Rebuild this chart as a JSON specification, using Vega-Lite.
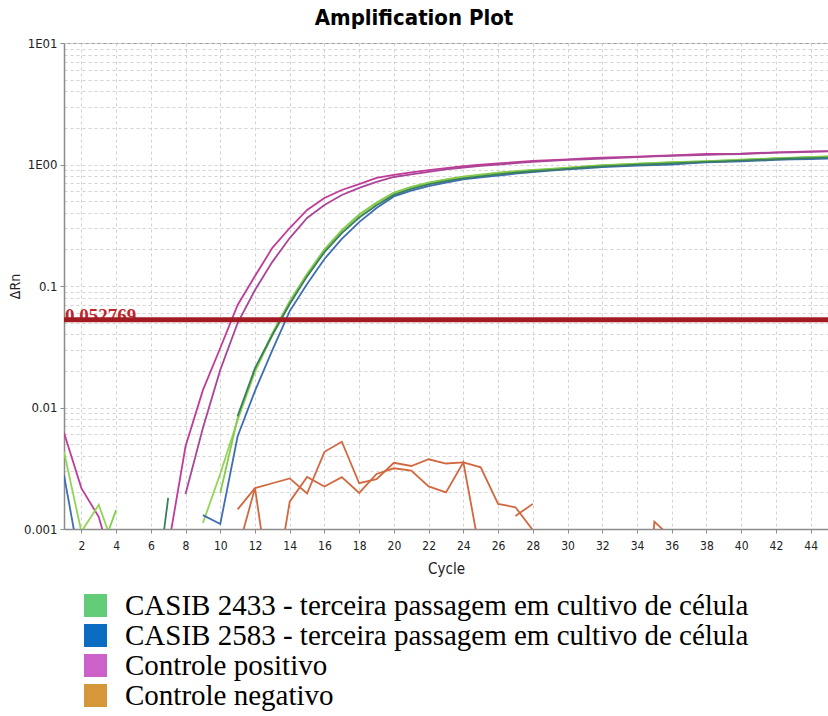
{
  "$schema": "https://vega.github.io/schema/vega-lite/v6.json",
  "width": 764,
  "height": 486,
  "autosize": {"type": "none"},
  "padding": {"left": 64, "top": 43, "right": 0, "bottom": 187},
  "background": "white",
  "title": {
    "text": "Amplification Plot",
    "font": "DejaVu Sans Condensed, Liberation Sans Narrow, sans-serif",
    "fontSize": 22,
    "fontWeight": "bold",
    "color": "#000",
    "anchor": "middle",
    "dx": -32,
    "offset": 7
  },
  "config": {
    "view": {"stroke": "#a0a0a0", "strokeWidth": 1},
    "axis": {
      "labelFont": "Liberation Sans Narrow, DejaVu Sans Condensed, sans-serif",
      "labelFontSize": 13,
      "labelColor": "#222",
      "labelOverlap": false,
      "titleFont": "Liberation Sans Narrow, DejaVu Sans Condensed, sans-serif",
      "titleFontWeight": "normal",
      "titleColor": "#222",
      "domainColor": "#8c8c8c",
      "domainWidth": 1.5,
      "tickColor": "#8c8c8c",
      "tickSize": 4,
      "gridColor": "#d2d2d2",
      "gridDash": [3, 3],
      "gridWidth": 1
    }
  },
  "datasets": {
    "wells": [
      {"trace": "P1a", "well": "P1", "group": "Controle positivo", "cycle": 1, "dRn": 0.0062},
      {"trace": "P1a", "well": "P1", "group": "Controle positivo", "cycle": 2, "dRn": 0.00217},
      {"trace": "P1a", "well": "P1", "group": "Controle positivo", "cycle": 3, "dRn": 0.00126},
      {"trace": "P1a", "well": "P1", "group": "Controle positivo", "cycle": 4, "dRn": 0.0004},
      {"trace": "P1b", "well": "P1", "group": "Controle positivo", "cycle": 7, "dRn": 0.0007},
      {"trace": "P1b", "well": "P1", "group": "Controle positivo", "cycle": 8, "dRn": 0.0048},
      {"trace": "P1b", "well": "P1", "group": "Controle positivo", "cycle": 9, "dRn": 0.0139},
      {"trace": "P1b", "well": "P1", "group": "Controle positivo", "cycle": 10, "dRn": 0.0309},
      {"trace": "P1b", "well": "P1", "group": "Controle positivo", "cycle": 11, "dRn": 0.0698},
      {"trace": "P1b", "well": "P1", "group": "Controle positivo", "cycle": 12, "dRn": 0.121},
      {"trace": "P1b", "well": "P1", "group": "Controle positivo", "cycle": 13, "dRn": 0.206},
      {"trace": "P1b", "well": "P1", "group": "Controle positivo", "cycle": 14, "dRn": 0.3},
      {"trace": "P1b", "well": "P1", "group": "Controle positivo", "cycle": 15, "dRn": 0.423},
      {"trace": "P1b", "well": "P1", "group": "Controle positivo", "cycle": 16, "dRn": 0.53},
      {"trace": "P1b", "well": "P1", "group": "Controle positivo", "cycle": 17, "dRn": 0.617},
      {"trace": "P1b", "well": "P1", "group": "Controle positivo", "cycle": 18, "dRn": 0.69},
      {"trace": "P1b", "well": "P1", "group": "Controle positivo", "cycle": 19, "dRn": 0.775},
      {"trace": "P1b", "well": "P1", "group": "Controle positivo", "cycle": 20, "dRn": 0.82},
      {"trace": "P1b", "well": "P1", "group": "Controle positivo", "cycle": 21, "dRn": 0.86},
      {"trace": "P1b", "well": "P1", "group": "Controle positivo", "cycle": 22, "dRn": 0.9},
      {"trace": "P1b", "well": "P1", "group": "Controle positivo", "cycle": 23, "dRn": 0.935},
      {"trace": "P1b", "well": "P1", "group": "Controle positivo", "cycle": 24, "dRn": 0.97},
      {"trace": "P1b", "well": "P1", "group": "Controle positivo", "cycle": 25, "dRn": 0.995},
      {"trace": "P1b", "well": "P1", "group": "Controle positivo", "cycle": 26, "dRn": 1.02},
      {"trace": "P1b", "well": "P1", "group": "Controle positivo", "cycle": 27, "dRn": 1.045},
      {"trace": "P1b", "well": "P1", "group": "Controle positivo", "cycle": 28, "dRn": 1.07},
      {"trace": "P1b", "well": "P1", "group": "Controle positivo", "cycle": 29, "dRn": 1.085},
      {"trace": "P1b", "well": "P1", "group": "Controle positivo", "cycle": 30, "dRn": 1.1},
      {"trace": "P1b", "well": "P1", "group": "Controle positivo", "cycle": 31, "dRn": 1.12},
      {"trace": "P1b", "well": "P1", "group": "Controle positivo", "cycle": 32, "dRn": 1.14},
      {"trace": "P1b", "well": "P1", "group": "Controle positivo", "cycle": 33, "dRn": 1.15},
      {"trace": "P1b", "well": "P1", "group": "Controle positivo", "cycle": 34, "dRn": 1.16},
      {"trace": "P1b", "well": "P1", "group": "Controle positivo", "cycle": 35, "dRn": 1.175},
      {"trace": "P1b", "well": "P1", "group": "Controle positivo", "cycle": 36, "dRn": 1.19},
      {"trace": "P1b", "well": "P1", "group": "Controle positivo", "cycle": 37, "dRn": 1.205},
      {"trace": "P1b", "well": "P1", "group": "Controle positivo", "cycle": 38, "dRn": 1.22},
      {"trace": "P1b", "well": "P1", "group": "Controle positivo", "cycle": 39, "dRn": 1.225},
      {"trace": "P1b", "well": "P1", "group": "Controle positivo", "cycle": 40, "dRn": 1.23},
      {"trace": "P1b", "well": "P1", "group": "Controle positivo", "cycle": 41, "dRn": 1.245},
      {"trace": "P1b", "well": "P1", "group": "Controle positivo", "cycle": 42, "dRn": 1.26},
      {"trace": "P1b", "well": "P1", "group": "Controle positivo", "cycle": 43, "dRn": 1.27},
      {"trace": "P1b", "well": "P1", "group": "Controle positivo", "cycle": 44, "dRn": 1.28},
      {"trace": "P1b", "well": "P1", "group": "Controle positivo", "cycle": 45, "dRn": 1.29},

      {"trace": "P2", "well": "P2", "group": "Controle positivo", "cycle": 8, "dRn": 0.00194},
      {"trace": "P2", "well": "P2", "group": "Controle positivo", "cycle": 9, "dRn": 0.00678},
      {"trace": "P2", "well": "P2", "group": "Controle positivo", "cycle": 10, "dRn": 0.0204},
      {"trace": "P2", "well": "P2", "group": "Controle positivo", "cycle": 11, "dRn": 0.0496},
      {"trace": "P2", "well": "P2", "group": "Controle positivo", "cycle": 12, "dRn": 0.0927},
      {"trace": "P2", "well": "P2", "group": "Controle positivo", "cycle": 13, "dRn": 0.158},
      {"trace": "P2", "well": "P2", "group": "Controle positivo", "cycle": 14, "dRn": 0.248},
      {"trace": "P2", "well": "P2", "group": "Controle positivo", "cycle": 15, "dRn": 0.363},
      {"trace": "P2", "well": "P2", "group": "Controle positivo", "cycle": 16, "dRn": 0.464},
      {"trace": "P2", "well": "P2", "group": "Controle positivo", "cycle": 17, "dRn": 0.561},
      {"trace": "P2", "well": "P2", "group": "Controle positivo", "cycle": 18, "dRn": 0.641},
      {"trace": "P2", "well": "P2", "group": "Controle positivo", "cycle": 19, "dRn": 0.718},
      {"trace": "P2", "well": "P2", "group": "Controle positivo", "cycle": 20, "dRn": 0.789},
      {"trace": "P2", "well": "P2", "group": "Controle positivo", "cycle": 21, "dRn": 0.83},
      {"trace": "P2", "well": "P2", "group": "Controle positivo", "cycle": 22, "dRn": 0.87},
      {"trace": "P2", "well": "P2", "group": "Controle positivo", "cycle": 23, "dRn": 0.91},
      {"trace": "P2", "well": "P2", "group": "Controle positivo", "cycle": 24, "dRn": 0.945},
      {"trace": "P2", "well": "P2", "group": "Controle positivo", "cycle": 25, "dRn": 0.975},
      {"trace": "P2", "well": "P2", "group": "Controle positivo", "cycle": 26, "dRn": 1.0},
      {"trace": "P2", "well": "P2", "group": "Controle positivo", "cycle": 27, "dRn": 1.025},
      {"trace": "P2", "well": "P2", "group": "Controle positivo", "cycle": 28, "dRn": 1.05},
      {"trace": "P2", "well": "P2", "group": "Controle positivo", "cycle": 29, "dRn": 1.07},
      {"trace": "P2", "well": "P2", "group": "Controle positivo", "cycle": 30, "dRn": 1.09},
      {"trace": "P2", "well": "P2", "group": "Controle positivo", "cycle": 31, "dRn": 1.105},
      {"trace": "P2", "well": "P2", "group": "Controle positivo", "cycle": 32, "dRn": 1.12},
      {"trace": "P2", "well": "P2", "group": "Controle positivo", "cycle": 33, "dRn": 1.135},
      {"trace": "P2", "well": "P2", "group": "Controle positivo", "cycle": 34, "dRn": 1.15},
      {"trace": "P2", "well": "P2", "group": "Controle positivo", "cycle": 35, "dRn": 1.165},
      {"trace": "P2", "well": "P2", "group": "Controle positivo", "cycle": 36, "dRn": 1.18},
      {"trace": "P2", "well": "P2", "group": "Controle positivo", "cycle": 37, "dRn": 1.19},
      {"trace": "P2", "well": "P2", "group": "Controle positivo", "cycle": 38, "dRn": 1.2},
      {"trace": "P2", "well": "P2", "group": "Controle positivo", "cycle": 39, "dRn": 1.21},
      {"trace": "P2", "well": "P2", "group": "Controle positivo", "cycle": 40, "dRn": 1.22},
      {"trace": "P2", "well": "P2", "group": "Controle positivo", "cycle": 41, "dRn": 1.235},
      {"trace": "P2", "well": "P2", "group": "Controle positivo", "cycle": 42, "dRn": 1.25},
      {"trace": "P2", "well": "P2", "group": "Controle positivo", "cycle": 43, "dRn": 1.26},
      {"trace": "P2", "well": "P2", "group": "Controle positivo", "cycle": 44, "dRn": 1.27},
      {"trace": "P2", "well": "P2", "group": "Controle positivo", "cycle": 45, "dRn": 1.28},

      {"trace": "G1a", "well": "G1", "group": "CASIB 2433 - terceira passagem em cultivo de célula", "cycle": 1, "dRn": 0.00432},
      {"trace": "G1a", "well": "G1", "group": "CASIB 2433 - terceira passagem em cultivo de célula", "cycle": 2, "dRn": 0.00095},
      {"trace": "G1a", "well": "G1", "group": "CASIB 2433 - terceira passagem em cultivo de célula", "cycle": 3, "dRn": 0.00158},
      {"trace": "G1a", "well": "G1", "group": "CASIB 2433 - terceira passagem em cultivo de célula", "cycle": 4, "dRn": 0.00063},
      {"trace": "G1b", "well": "G1", "group": "CASIB 2433 - terceira passagem em cultivo de célula", "cycle": 9, "dRn": 0.00112},
      {"trace": "G1b", "well": "G1", "group": "CASIB 2433 - terceira passagem em cultivo de célula", "cycle": 10, "dRn": 0.00285},
      {"trace": "G1b", "well": "G1", "group": "CASIB 2433 - terceira passagem em cultivo de célula", "cycle": 11, "dRn": 0.00789},
      {"trace": "G1b", "well": "G1", "group": "CASIB 2433 - terceira passagem em cultivo de célula", "cycle": 12, "dRn": 0.0196},
      {"trace": "G1b", "well": "G1", "group": "CASIB 2433 - terceira passagem em cultivo de célula", "cycle": 13, "dRn": 0.0395},
      {"trace": "G1b", "well": "G1", "group": "CASIB 2433 - terceira passagem em cultivo de célula", "cycle": 14, "dRn": 0.0724},
      {"trace": "G1b", "well": "G1", "group": "CASIB 2433 - terceira passagem em cultivo de célula", "cycle": 15, "dRn": 0.123},
      {"trace": "G1b", "well": "G1", "group": "CASIB 2433 - terceira passagem em cultivo de célula", "cycle": 16, "dRn": 0.198},
      {"trace": "G1b", "well": "G1", "group": "CASIB 2433 - terceira passagem em cultivo de célula", "cycle": 17, "dRn": 0.284},
      {"trace": "G1b", "well": "G1", "group": "CASIB 2433 - terceira passagem em cultivo de célula", "cycle": 18, "dRn": 0.384},
      {"trace": "G1b", "well": "G1", "group": "CASIB 2433 - terceira passagem em cultivo de célula", "cycle": 19, "dRn": 0.482},
      {"trace": "G1b", "well": "G1", "group": "CASIB 2433 - terceira passagem em cultivo de célula", "cycle": 20, "dRn": 0.582},
      {"trace": "G1b", "well": "G1", "group": "CASIB 2433 - terceira passagem em cultivo de célula", "cycle": 21, "dRn": 0.65},
      {"trace": "G1b", "well": "G1", "group": "CASIB 2433 - terceira passagem em cultivo de célula", "cycle": 22, "dRn": 0.705},
      {"trace": "G1b", "well": "G1", "group": "CASIB 2433 - terceira passagem em cultivo de célula", "cycle": 23, "dRn": 0.75},
      {"trace": "G1b", "well": "G1", "group": "CASIB 2433 - terceira passagem em cultivo de célula", "cycle": 24, "dRn": 0.789},
      {"trace": "G1b", "well": "G1", "group": "CASIB 2433 - terceira passagem em cultivo de célula", "cycle": 25, "dRn": 0.82},
      {"trace": "G1b", "well": "G1", "group": "CASIB 2433 - terceira passagem em cultivo de célula", "cycle": 26, "dRn": 0.851},
      {"trace": "G1b", "well": "G1", "group": "CASIB 2433 - terceira passagem em cultivo de célula", "cycle": 27, "dRn": 0.875},
      {"trace": "G1b", "well": "G1", "group": "CASIB 2433 - terceira passagem em cultivo de célula", "cycle": 28, "dRn": 0.895},
      {"trace": "G1b", "well": "G1", "group": "CASIB 2433 - terceira passagem em cultivo de célula", "cycle": 29, "dRn": 0.915},
      {"trace": "G1b", "well": "G1", "group": "CASIB 2433 - terceira passagem em cultivo de célula", "cycle": 30, "dRn": 0.936},
      {"trace": "G1b", "well": "G1", "group": "CASIB 2433 - terceira passagem em cultivo de célula", "cycle": 31, "dRn": 0.96},
      {"trace": "G1b", "well": "G1", "group": "CASIB 2433 - terceira passagem em cultivo de célula", "cycle": 32, "dRn": 0.981},
      {"trace": "G1b", "well": "G1", "group": "CASIB 2433 - terceira passagem em cultivo de célula", "cycle": 33, "dRn": 0.995},
      {"trace": "G1b", "well": "G1", "group": "CASIB 2433 - terceira passagem em cultivo de célula", "cycle": 34, "dRn": 1.01},
      {"trace": "G1b", "well": "G1", "group": "CASIB 2433 - terceira passagem em cultivo de célula", "cycle": 35, "dRn": 1.025},
      {"trace": "G1b", "well": "G1", "group": "CASIB 2433 - terceira passagem em cultivo de célula", "cycle": 36, "dRn": 1.04},
      {"trace": "G1b", "well": "G1", "group": "CASIB 2433 - terceira passagem em cultivo de célula", "cycle": 37, "dRn": 1.05},
      {"trace": "G1b", "well": "G1", "group": "CASIB 2433 - terceira passagem em cultivo de célula", "cycle": 38, "dRn": 1.06},
      {"trace": "G1b", "well": "G1", "group": "CASIB 2433 - terceira passagem em cultivo de célula", "cycle": 39, "dRn": 1.075},
      {"trace": "G1b", "well": "G1", "group": "CASIB 2433 - terceira passagem em cultivo de célula", "cycle": 40, "dRn": 1.09},
      {"trace": "G1b", "well": "G1", "group": "CASIB 2433 - terceira passagem em cultivo de célula", "cycle": 41, "dRn": 1.105},
      {"trace": "G1b", "well": "G1", "group": "CASIB 2433 - terceira passagem em cultivo de célula", "cycle": 42, "dRn": 1.12},
      {"trace": "G1b", "well": "G1", "group": "CASIB 2433 - terceira passagem em cultivo de célula", "cycle": 43, "dRn": 1.135},
      {"trace": "G1b", "well": "G1", "group": "CASIB 2433 - terceira passagem em cultivo de célula", "cycle": 44, "dRn": 1.15},
      {"trace": "G1b", "well": "G1", "group": "CASIB 2433 - terceira passagem em cultivo de célula", "cycle": 45, "dRn": 1.16},

      {"trace": "G2a", "well": "G2", "group": "CASIB 2433 - terceira passagem em cultivo de célula", "cycle": 3, "dRn": 0.000586},
      {"trace": "G2a", "well": "G2", "group": "CASIB 2433 - terceira passagem em cultivo de célula", "cycle": 4, "dRn": 0.00143},
      {"trace": "G2b", "well": "G2", "group": "CASIB 2433 - terceira passagem em cultivo de célula", "cycle": 10, "dRn": 0.00198},
      {"trace": "G2b", "well": "G2", "group": "CASIB 2433 - terceira passagem em cultivo de célula", "cycle": 11, "dRn": 0.0082},
      {"trace": "G2b", "well": "G2", "group": "CASIB 2433 - terceira passagem em cultivo de célula", "cycle": 12, "dRn": 0.0205},
      {"trace": "G2b", "well": "G2", "group": "CASIB 2433 - terceira passagem em cultivo de célula", "cycle": 13, "dRn": 0.041},
      {"trace": "G2b", "well": "G2", "group": "CASIB 2433 - terceira passagem em cultivo de célula", "cycle": 14, "dRn": 0.075},
      {"trace": "G2b", "well": "G2", "group": "CASIB 2433 - terceira passagem em cultivo de célula", "cycle": 15, "dRn": 0.126},
      {"trace": "G2b", "well": "G2", "group": "CASIB 2433 - terceira passagem em cultivo de célula", "cycle": 16, "dRn": 0.2},
      {"trace": "G2b", "well": "G2", "group": "CASIB 2433 - terceira passagem em cultivo de célula", "cycle": 17, "dRn": 0.288},
      {"trace": "G2b", "well": "G2", "group": "CASIB 2433 - terceira passagem em cultivo de célula", "cycle": 18, "dRn": 0.388},
      {"trace": "G2b", "well": "G2", "group": "CASIB 2433 - terceira passagem em cultivo de célula", "cycle": 19, "dRn": 0.487},
      {"trace": "G2b", "well": "G2", "group": "CASIB 2433 - terceira passagem em cultivo de célula", "cycle": 20, "dRn": 0.587},
      {"trace": "G2b", "well": "G2", "group": "CASIB 2433 - terceira passagem em cultivo de célula", "cycle": 21, "dRn": 0.655},
      {"trace": "G2b", "well": "G2", "group": "CASIB 2433 - terceira passagem em cultivo de célula", "cycle": 22, "dRn": 0.71},
      {"trace": "G2b", "well": "G2", "group": "CASIB 2433 - terceira passagem em cultivo de célula", "cycle": 23, "dRn": 0.755},
      {"trace": "G2b", "well": "G2", "group": "CASIB 2433 - terceira passagem em cultivo de célula", "cycle": 24, "dRn": 0.795},
      {"trace": "G2b", "well": "G2", "group": "CASIB 2433 - terceira passagem em cultivo de célula", "cycle": 25, "dRn": 0.826},
      {"trace": "G2b", "well": "G2", "group": "CASIB 2433 - terceira passagem em cultivo de célula", "cycle": 26, "dRn": 0.857},
      {"trace": "G2b", "well": "G2", "group": "CASIB 2433 - terceira passagem em cultivo de célula", "cycle": 27, "dRn": 0.881},
      {"trace": "G2b", "well": "G2", "group": "CASIB 2433 - terceira passagem em cultivo de célula", "cycle": 28, "dRn": 0.901},
      {"trace": "G2b", "well": "G2", "group": "CASIB 2433 - terceira passagem em cultivo de célula", "cycle": 29, "dRn": 0.921},
      {"trace": "G2b", "well": "G2", "group": "CASIB 2433 - terceira passagem em cultivo de célula", "cycle": 30, "dRn": 0.942},
      {"trace": "G2b", "well": "G2", "group": "CASIB 2433 - terceira passagem em cultivo de célula", "cycle": 31, "dRn": 0.966},
      {"trace": "G2b", "well": "G2", "group": "CASIB 2433 - terceira passagem em cultivo de célula", "cycle": 32, "dRn": 0.987},
      {"trace": "G2b", "well": "G2", "group": "CASIB 2433 - terceira passagem em cultivo de célula", "cycle": 33, "dRn": 1.0},
      {"trace": "G2b", "well": "G2", "group": "CASIB 2433 - terceira passagem em cultivo de célula", "cycle": 34, "dRn": 1.016},
      {"trace": "G2b", "well": "G2", "group": "CASIB 2433 - terceira passagem em cultivo de célula", "cycle": 35, "dRn": 1.031},
      {"trace": "G2b", "well": "G2", "group": "CASIB 2433 - terceira passagem em cultivo de célula", "cycle": 36, "dRn": 1.046},
      {"trace": "G2b", "well": "G2", "group": "CASIB 2433 - terceira passagem em cultivo de célula", "cycle": 37, "dRn": 1.056},
      {"trace": "G2b", "well": "G2", "group": "CASIB 2433 - terceira passagem em cultivo de célula", "cycle": 38, "dRn": 1.066},
      {"trace": "G2b", "well": "G2", "group": "CASIB 2433 - terceira passagem em cultivo de célula", "cycle": 39, "dRn": 1.081},
      {"trace": "G2b", "well": "G2", "group": "CASIB 2433 - terceira passagem em cultivo de célula", "cycle": 40, "dRn": 1.096},
      {"trace": "G2b", "well": "G2", "group": "CASIB 2433 - terceira passagem em cultivo de célula", "cycle": 41, "dRn": 1.111},
      {"trace": "G2b", "well": "G2", "group": "CASIB 2433 - terceira passagem em cultivo de célula", "cycle": 42, "dRn": 1.126},
      {"trace": "G2b", "well": "G2", "group": "CASIB 2433 - terceira passagem em cultivo de célula", "cycle": 43, "dRn": 1.141},
      {"trace": "G2b", "well": "G2", "group": "CASIB 2433 - terceira passagem em cultivo de célula", "cycle": 44, "dRn": 1.156},
      {"trace": "G2b", "well": "G2", "group": "CASIB 2433 - terceira passagem em cultivo de célula", "cycle": 45, "dRn": 1.166},

      {"trace": "B1a", "well": "B1", "group": "CASIB 2583 - terceira passagem em cultivo de célula", "cycle": 1, "dRn": 0.00278},
      {"trace": "B1a", "well": "B1", "group": "CASIB 2583 - terceira passagem em cultivo de célula", "cycle": 2, "dRn": 0.00045},
      {"trace": "B1b", "well": "B1", "group": "CASIB 2583 - terceira passagem em cultivo de célula", "cycle": 9, "dRn": 0.0013},
      {"trace": "B1b", "well": "B1", "group": "CASIB 2583 - terceira passagem em cultivo de célula", "cycle": 10, "dRn": 0.0011},
      {"trace": "B1b", "well": "B1", "group": "CASIB 2583 - terceira passagem em cultivo de célula", "cycle": 11, "dRn": 0.0058},
      {"trace": "B1b", "well": "B1", "group": "CASIB 2583 - terceira passagem em cultivo de célula", "cycle": 12, "dRn": 0.0137},
      {"trace": "B1b", "well": "B1", "group": "CASIB 2583 - terceira passagem em cultivo de célula", "cycle": 13, "dRn": 0.0297},
      {"trace": "B1b", "well": "B1", "group": "CASIB 2583 - terceira passagem em cultivo de célula", "cycle": 14, "dRn": 0.0622},
      {"trace": "B1b", "well": "B1", "group": "CASIB 2583 - terceira passagem em cultivo de célula", "cycle": 15, "dRn": 0.104},
      {"trace": "B1b", "well": "B1", "group": "CASIB 2583 - terceira passagem em cultivo de célula", "cycle": 16, "dRn": 0.167},
      {"trace": "B1b", "well": "B1", "group": "CASIB 2583 - terceira passagem em cultivo de célula", "cycle": 17, "dRn": 0.244},
      {"trace": "B1b", "well": "B1", "group": "CASIB 2583 - terceira passagem em cultivo de célula", "cycle": 18, "dRn": 0.336},
      {"trace": "B1b", "well": "B1", "group": "CASIB 2583 - terceira passagem em cultivo de célula", "cycle": 19, "dRn": 0.439},
      {"trace": "B1b", "well": "B1", "group": "CASIB 2583 - terceira passagem em cultivo de célula", "cycle": 20, "dRn": 0.546},
      {"trace": "B1b", "well": "B1", "group": "CASIB 2583 - terceira passagem em cultivo de célula", "cycle": 21, "dRn": 0.61},
      {"trace": "B1b", "well": "B1", "group": "CASIB 2583 - terceira passagem em cultivo de célula", "cycle": 22, "dRn": 0.665},
      {"trace": "B1b", "well": "B1", "group": "CASIB 2583 - terceira passagem em cultivo de célula", "cycle": 23, "dRn": 0.71},
      {"trace": "B1b", "well": "B1", "group": "CASIB 2583 - terceira passagem em cultivo de célula", "cycle": 24, "dRn": 0.753},
      {"trace": "B1b", "well": "B1", "group": "CASIB 2583 - terceira passagem em cultivo de célula", "cycle": 25, "dRn": 0.785},
      {"trace": "B1b", "well": "B1", "group": "CASIB 2583 - terceira passagem em cultivo de célula", "cycle": 26, "dRn": 0.811},
      {"trace": "B1b", "well": "B1", "group": "CASIB 2583 - terceira passagem em cultivo de célula", "cycle": 27, "dRn": 0.84},
      {"trace": "B1b", "well": "B1", "group": "CASIB 2583 - terceira passagem em cultivo de célula", "cycle": 28, "dRn": 0.867},
      {"trace": "B1b", "well": "B1", "group": "CASIB 2583 - terceira passagem em cultivo de célula", "cycle": 29, "dRn": 0.89},
      {"trace": "B1b", "well": "B1", "group": "CASIB 2583 - terceira passagem em cultivo de célula", "cycle": 30, "dRn": 0.91},
      {"trace": "B1b", "well": "B1", "group": "CASIB 2583 - terceira passagem em cultivo de célula", "cycle": 31, "dRn": 0.93},
      {"trace": "B1b", "well": "B1", "group": "CASIB 2583 - terceira passagem em cultivo de célula", "cycle": 32, "dRn": 0.953},
      {"trace": "B1b", "well": "B1", "group": "CASIB 2583 - terceira passagem em cultivo de célula", "cycle": 33, "dRn": 0.967},
      {"trace": "B1b", "well": "B1", "group": "CASIB 2583 - terceira passagem em cultivo de célula", "cycle": 34, "dRn": 0.981},
      {"trace": "B1b", "well": "B1", "group": "CASIB 2583 - terceira passagem em cultivo de célula", "cycle": 35, "dRn": 0.99},
      {"trace": "B1b", "well": "B1", "group": "CASIB 2583 - terceira passagem em cultivo de célula", "cycle": 36, "dRn": 1.0},
      {"trace": "B1b", "well": "B1", "group": "CASIB 2583 - terceira passagem em cultivo de célula", "cycle": 37, "dRn": 1.02},
      {"trace": "B1b", "well": "B1", "group": "CASIB 2583 - terceira passagem em cultivo de célula", "cycle": 38, "dRn": 1.04},
      {"trace": "B1b", "well": "B1", "group": "CASIB 2583 - terceira passagem em cultivo de célula", "cycle": 39, "dRn": 1.05},
      {"trace": "B1b", "well": "B1", "group": "CASIB 2583 - terceira passagem em cultivo de célula", "cycle": 40, "dRn": 1.06},
      {"trace": "B1b", "well": "B1", "group": "CASIB 2583 - terceira passagem em cultivo de célula", "cycle": 41, "dRn": 1.075},
      {"trace": "B1b", "well": "B1", "group": "CASIB 2583 - terceira passagem em cultivo de célula", "cycle": 42, "dRn": 1.09},
      {"trace": "B1b", "well": "B1", "group": "CASIB 2583 - terceira passagem em cultivo de célula", "cycle": 43, "dRn": 1.1},
      {"trace": "B1b", "well": "B1", "group": "CASIB 2583 - terceira passagem em cultivo de célula", "cycle": 44, "dRn": 1.11},
      {"trace": "B1b", "well": "B1", "group": "CASIB 2583 - terceira passagem em cultivo de célula", "cycle": 45, "dRn": 1.12},

      {"trace": "B2a", "well": "B2", "group": "CASIB 2583 - terceira passagem em cultivo de célula", "cycle": 6, "dRn": 0.00014},
      {"trace": "B2a", "well": "B2", "group": "CASIB 2583 - terceira passagem em cultivo de célula", "cycle": 7, "dRn": 0.0018},
      {"trace": "B2b", "well": "B2", "group": "CASIB 2583 - terceira passagem em cultivo de célula", "cycle": 11, "dRn": 0.0085},
      {"trace": "B2b", "well": "B2", "group": "CASIB 2583 - terceira passagem em cultivo de célula", "cycle": 12, "dRn": 0.0211},
      {"trace": "B2b", "well": "B2", "group": "CASIB 2583 - terceira passagem em cultivo de célula", "cycle": 13, "dRn": 0.0395},
      {"trace": "B2b", "well": "B2", "group": "CASIB 2583 - terceira passagem em cultivo de célula", "cycle": 14, "dRn": 0.071},
      {"trace": "B2b", "well": "B2", "group": "CASIB 2583 - terceira passagem em cultivo de célula", "cycle": 15, "dRn": 0.12},
      {"trace": "B2b", "well": "B2", "group": "CASIB 2583 - terceira passagem em cultivo de célula", "cycle": 16, "dRn": 0.19},
      {"trace": "B2b", "well": "B2", "group": "CASIB 2583 - terceira passagem em cultivo de célula", "cycle": 17, "dRn": 0.272},
      {"trace": "B2b", "well": "B2", "group": "CASIB 2583 - terceira passagem em cultivo de célula", "cycle": 18, "dRn": 0.366},
      {"trace": "B2b", "well": "B2", "group": "CASIB 2583 - terceira passagem em cultivo de célula", "cycle": 19, "dRn": 0.462},
      {"trace": "B2b", "well": "B2", "group": "CASIB 2583 - terceira passagem em cultivo de célula", "cycle": 20, "dRn": 0.562},
      {"trace": "B2b", "well": "B2", "group": "CASIB 2583 - terceira passagem em cultivo de célula", "cycle": 21, "dRn": 0.63},
      {"trace": "B2b", "well": "B2", "group": "CASIB 2583 - terceira passagem em cultivo de célula", "cycle": 22, "dRn": 0.685},
      {"trace": "B2b", "well": "B2", "group": "CASIB 2583 - terceira passagem em cultivo de célula", "cycle": 23, "dRn": 0.73},
      {"trace": "B2b", "well": "B2", "group": "CASIB 2583 - terceira passagem em cultivo de célula", "cycle": 24, "dRn": 0.77},
      {"trace": "B2b", "well": "B2", "group": "CASIB 2583 - terceira passagem em cultivo de célula", "cycle": 25, "dRn": 0.8},
      {"trace": "B2b", "well": "B2", "group": "CASIB 2583 - terceira passagem em cultivo de célula", "cycle": 26, "dRn": 0.83},
      {"trace": "B2b", "well": "B2", "group": "CASIB 2583 - terceira passagem em cultivo de célula", "cycle": 27, "dRn": 0.855},
      {"trace": "B2b", "well": "B2", "group": "CASIB 2583 - terceira passagem em cultivo de célula", "cycle": 28, "dRn": 0.88},
      {"trace": "B2b", "well": "B2", "group": "CASIB 2583 - terceira passagem em cultivo de célula", "cycle": 29, "dRn": 0.9},
      {"trace": "B2b", "well": "B2", "group": "CASIB 2583 - terceira passagem em cultivo de célula", "cycle": 30, "dRn": 0.92},
      {"trace": "B2b", "well": "B2", "group": "CASIB 2583 - terceira passagem em cultivo de célula", "cycle": 31, "dRn": 0.945},
      {"trace": "B2b", "well": "B2", "group": "CASIB 2583 - terceira passagem em cultivo de célula", "cycle": 32, "dRn": 0.965},
      {"trace": "B2b", "well": "B2", "group": "CASIB 2583 - terceira passagem em cultivo de célula", "cycle": 33, "dRn": 0.98},
      {"trace": "B2b", "well": "B2", "group": "CASIB 2583 - terceira passagem em cultivo de célula", "cycle": 34, "dRn": 0.995},
      {"trace": "B2b", "well": "B2", "group": "CASIB 2583 - terceira passagem em cultivo de célula", "cycle": 35, "dRn": 1.005},
      {"trace": "B2b", "well": "B2", "group": "CASIB 2583 - terceira passagem em cultivo de célula", "cycle": 36, "dRn": 1.02},
      {"trace": "B2b", "well": "B2", "group": "CASIB 2583 - terceira passagem em cultivo de célula", "cycle": 37, "dRn": 1.035},
      {"trace": "B2b", "well": "B2", "group": "CASIB 2583 - terceira passagem em cultivo de célula", "cycle": 38, "dRn": 1.05},
      {"trace": "B2b", "well": "B2", "group": "CASIB 2583 - terceira passagem em cultivo de célula", "cycle": 39, "dRn": 1.06},
      {"trace": "B2b", "well": "B2", "group": "CASIB 2583 - terceira passagem em cultivo de célula", "cycle": 40, "dRn": 1.075},
      {"trace": "B2b", "well": "B2", "group": "CASIB 2583 - terceira passagem em cultivo de célula", "cycle": 41, "dRn": 1.09},
      {"trace": "B2b", "well": "B2", "group": "CASIB 2583 - terceira passagem em cultivo de célula", "cycle": 42, "dRn": 1.105},
      {"trace": "B2b", "well": "B2", "group": "CASIB 2583 - terceira passagem em cultivo de célula", "cycle": 43, "dRn": 1.12},
      {"trace": "B2b", "well": "B2", "group": "CASIB 2583 - terceira passagem em cultivo de célula", "cycle": 44, "dRn": 1.13},
      {"trace": "B2b", "well": "B2", "group": "CASIB 2583 - terceira passagem em cultivo de célula", "cycle": 45, "dRn": 1.14},

      {"trace": "O1", "well": "O1", "group": "Controle negativo", "cycle": 11, "dRn": 0.00145},
      {"trace": "O1", "well": "O1", "group": "Controle negativo", "cycle": 12, "dRn": 0.00217},
      {"trace": "O1", "well": "O1", "group": "Controle negativo", "cycle": 13, "dRn": 0.00238},
      {"trace": "O1", "well": "O1", "group": "Controle negativo", "cycle": 14, "dRn": 0.00261},
      {"trace": "O1", "well": "O1", "group": "Controle negativo", "cycle": 15, "dRn": 0.00196},
      {"trace": "O1", "well": "O1", "group": "Controle negativo", "cycle": 16, "dRn": 0.00432},
      {"trace": "O1", "well": "O1", "group": "Controle negativo", "cycle": 17, "dRn": 0.00523},
      {"trace": "O1", "well": "O1", "group": "Controle negativo", "cycle": 18, "dRn": 0.00238},
      {"trace": "O1", "well": "O1", "group": "Controle negativo", "cycle": 19, "dRn": 0.00257},
      {"trace": "O1", "well": "O1", "group": "Controle negativo", "cycle": 20, "dRn": 0.00351},
      {"trace": "O1", "well": "O1", "group": "Controle negativo", "cycle": 21, "dRn": 0.0033},
      {"trace": "O1", "well": "O1", "group": "Controle negativo", "cycle": 22, "dRn": 0.00375},
      {"trace": "O1", "well": "O1", "group": "Controle negativo", "cycle": 23, "dRn": 0.00346},
      {"trace": "O1", "well": "O1", "group": "Controle negativo", "cycle": 24, "dRn": 0.00354},
      {"trace": "O1", "well": "O1", "group": "Controle negativo", "cycle": 25, "dRn": 0.00322},
      {"trace": "O1", "well": "O1", "group": "Controle negativo", "cycle": 26, "dRn": 0.00161},
      {"trace": "O1", "well": "O1", "group": "Controle negativo", "cycle": 27, "dRn": 0.00151},
      {"trace": "O1", "well": "O1", "group": "Controle negativo", "cycle": 28, "dRn": 0.00098},

      {"trace": "O2", "well": "O2", "group": "Controle negativo", "cycle": 11, "dRn": 0.00066},
      {"trace": "O2", "well": "O2", "group": "Controle negativo", "cycle": 12, "dRn": 0.00217},
      {"trace": "O2", "well": "O2", "group": "Controle negativo", "cycle": 13, "dRn": 0.00023},
      {"trace": "O2", "well": "O2", "group": "Controle negativo", "cycle": 14, "dRn": 0.00168},
      {"trace": "O2", "well": "O2", "group": "Controle negativo", "cycle": 15, "dRn": 0.00268},
      {"trace": "O2", "well": "O2", "group": "Controle negativo", "cycle": 16, "dRn": 0.00224},
      {"trace": "O2", "well": "O2", "group": "Controle negativo", "cycle": 17, "dRn": 0.00267},
      {"trace": "O2", "well": "O2", "group": "Controle negativo", "cycle": 18, "dRn": 0.00198},
      {"trace": "O2", "well": "O2", "group": "Controle negativo", "cycle": 19, "dRn": 0.00284},
      {"trace": "O2", "well": "O2", "group": "Controle negativo", "cycle": 20, "dRn": 0.00316},
      {"trace": "O2", "well": "O2", "group": "Controle negativo", "cycle": 21, "dRn": 0.00302},
      {"trace": "O2", "well": "O2", "group": "Controle negativo", "cycle": 22, "dRn": 0.00224},
      {"trace": "O2", "well": "O2", "group": "Controle negativo", "cycle": 23, "dRn": 0.002},
      {"trace": "O2", "well": "O2", "group": "Controle negativo", "cycle": 24, "dRn": 0.00354},
      {"trace": "O2", "well": "O2", "group": "Controle negativo", "cycle": 25, "dRn": 0.00059},

      {"trace": "O3a", "well": "O3", "group": "Controle negativo", "cycle": 27, "dRn": 0.00128},
      {"trace": "O3a", "well": "O3", "group": "Controle negativo", "cycle": 28, "dRn": 0.00161},
      {"trace": "O3b", "well": "O3", "group": "Controle negativo", "cycle": 34, "dRn": 0.00001},
      {"trace": "O3b", "well": "O3", "group": "Controle negativo", "cycle": 35, "dRn": 0.00115},
      {"trace": "O3b", "well": "O3", "group": "Controle negativo", "cycle": 36, "dRn": 0.000845}
    ],
    "threshold": [{"cycle": 1, "threshold": 0.052769, "label": "0.052769"}]
  },
  "layer": [
    {
      "data": {"name": "wells"},
      "mark": {"type": "line", "strokeWidth": 1.8, "clip": true},
      "encoding": {
        "x": {
          "field": "cycle",
          "type": "quantitative",
          "scale": {"domain": [1, 45], "nice": false, "zero": false},
          "axis": {
            "title": "Cycle",
            "titleFontSize": 15,
            "titlePadding": 10,
            "values": [2, 4, 6, 8, 10, 12, 14, 16, 18, 20, 22, 24, 26, 28, 30, 32, 34, 36, 38, 40, 42, 44],
            "labelOverlap": false,
            "labelFontSize": 12,
            "labelPadding": 7
          }
        },
        "y": {
          "field": "dRn",
          "type": "quantitative",
          "scale": {"type": "log", "domain": [0.001, 10], "nice": false},
          "axis": {
            "title": "ΔRn",
            "titleFontSize": 14,
            "titleX": -49,
            "titleY": 243,
            "titleBaseline": "middle",
            "titleAngle": -90,
            "values": [0.001, 0.002, 0.003, 0.004, 0.005, 0.006, 0.007, 0.008, 0.009, 0.01, 0.02, 0.03, 0.04, 0.05, 0.06, 0.07, 0.08, 0.09, 0.1, 0.2, 0.3, 0.4, 0.5, 0.6, 0.7, 0.8, 0.9, 1, 2, 3, 4, 5, 6, 7, 8, 9, 10],
            "format": ".3~f",
            "labelOverlap": false,
            "labelExpr": "datum.value == 10 ? '1E01' : datum.value == 1 ? '1E00' : (datum.value == 0.1 || datum.value == 0.01 || datum.value == 0.001) ? datum.label : ''",
            "tickOpacity": {
              "condition": {"test": "datum.value == 10 || datum.value == 1 || datum.value == 0.1 || datum.value == 0.01 || datum.value == 0.001", "value": 1},
              "value": 0
            },
            "labelPadding": 3
          }
        },
        "stroke": {
          "field": "well",
          "type": "nominal",
          "scale": {
            "domain": ["O1", "O2", "O3", "B1", "B2", "G1", "G2", "P1", "P2"],
            "range": ["#d2683f", "#d2683f", "#d2683f", "#3e6db4", "#3a7f5e", "#93d455", "#84cc4c", "#c23b97", "#ab4597"]
          },
          "legend": null
        },
        "detail": {"field": "trace", "type": "nominal"},
        "order": {"field": "cycle", "type": "quantitative"}
      }
    },
    {
      "data": {"name": "wells"},
      "mark": {"type": "point", "filled": true, "opacity": 0, "clip": true},
      "encoding": {
        "x": {
          "field": "cycle",
          "type": "quantitative",
          "axis": {
            "title": "Cycle",
            "titleFontSize": 15,
            "titlePadding": 10,
            "values": [2, 4, 6, 8, 10, 12, 14, 16, 18, 20, 22, 24, 26, 28, 30, 32, 34, 36, 38, 40, 42, 44],
            "labelOverlap": false,
            "labelFontSize": 12,
            "labelPadding": 7
          }
        },
        "y": {"field": "dRn", "type": "quantitative", "title": "ΔRn"},
        "fill": {
          "field": "group",
          "type": "nominal",
          "scale": {
            "domain": ["CASIB 2433 - terceira passagem em cultivo de célula", "CASIB 2583 - terceira passagem em cultivo de célula", "Controle positivo", "Controle negativo"],
            "range": ["#62cc78", "#0b6dc1", "#cc62c9", "#d6973b"]
          },
          "legend": {
            "title": null,
            "orient": "none",
            "legendX": 17,
            "legendY": 548,
            "direction": "vertical",
            "symbolType": "square",
            "symbolSize": 529,
            "symbolOpacity": 1,
            "symbolStrokeWidth": 0,
            "labelFont": "Liberation Serif",
            "labelFontSize": 29,
            "labelColor": "#000",
            "labelLimit": 0,
            "labelOffset": 15,
            "rowPadding": 0,
            "padding": 0
          }
        }
      }
    },
    {
      "data": {"name": "threshold"},
      "mark": {"type": "text", "align": "left", "baseline": "alphabetic", "dx": 1, "dy": 2, "font": "Liberation Serif", "fontSize": 19, "fontWeight": "bold", "color": "#c0262c"},
      "encoding": {
        "x": {
          "field": "cycle",
          "type": "quantitative",
          "axis": {
            "title": "Cycle",
            "titleFontSize": 15,
            "titlePadding": 10,
            "values": [2, 4, 6, 8, 10, 12, 14, 16, 18, 20, 22, 24, 26, 28, 30, 32, 34, 36, 38, 40, 42, 44],
            "labelOverlap": false,
            "labelFontSize": 12,
            "labelPadding": 7
          }
        },
        "y": {"field": "threshold", "type": "quantitative", "title": "ΔRn"},
        "text": {"field": "label"}
      }
    },
    {
      "data": {"name": "threshold"},
      "mark": {"type": "rule", "color": "#a31b22", "strokeWidth": 5},
      "encoding": {
        "y": {"field": "threshold", "type": "quantitative", "title": "ΔRn"}
      }
    }
  ]
}
